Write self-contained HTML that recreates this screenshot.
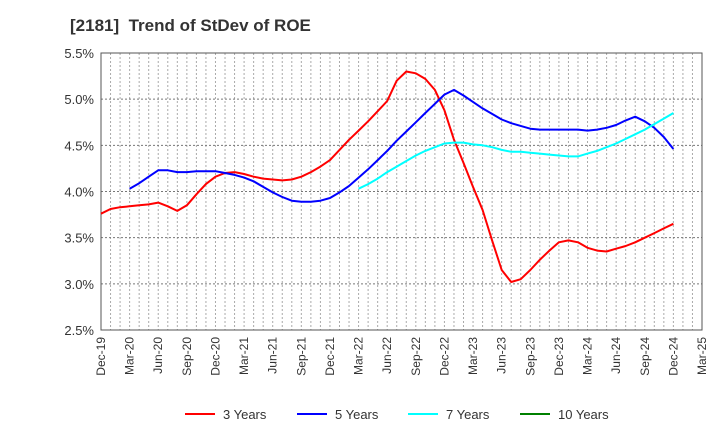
<!DOCTYPE html>
<html><head><meta charset="utf-8"><style>
body{margin:0;background:#fff;font-family:"Liberation Sans",sans-serif;}
svg text{font-family:"Liberation Sans",sans-serif;}
</style></head><body>
<svg id="chart" width="720" height="440" xmlns="http://www.w3.org/2000/svg">
<text x="70" y="31" font-size="17" font-weight="bold" fill="#333" style="white-space:pre">[2181]  Trend of StDev of ROE</text>
<g id="grid"></g><g id="axes"></g><g id="series"></g><g id="legend"></g>
</svg>
<script>
const xLabels=["Dec-19","Mar-20","Jun-20","Sep-20","Dec-20","Mar-21","Jun-21","Sep-21","Dec-21","Mar-22","Jun-22","Sep-22","Dec-22","Mar-23","Jun-23","Sep-23","Dec-23","Mar-24","Jun-24","Sep-24","Dec-24","Mar-25"];
const yTicks=[2.5,3.0,3.5,4.0,4.5,5.0,5.5];
const seriesNames=["3 Years","5 Years","7 Years","10 Years"];
const seriesColors=["#ff0000","#0000ff","#00ffff","#008000"];
// monthly values starting Dec-19 (index 0)
const red=[3.76,3.81,3.83,3.84,3.85,3.86,3.88,3.84,3.79,3.85,3.97,4.08,4.16,4.20,4.21,4.19,4.16,4.14,4.13,4.12,4.13,4.16,4.21,4.27,4.34,4.45,4.56,4.66,4.76,4.87,4.98,5.20,5.30,5.28,5.22,5.10,4.88,4.56,4.31,4.05,3.80,3.47,3.15,3.02,3.05,3.15,3.26,3.36,3.45,3.47,3.45,3.39,3.36,3.35,3.38,3.41,3.45,3.50,3.55,3.60,3.65];
const blueStart=3;
const blue=[4.03,4.09,4.16,4.23,4.23,4.21,4.21,4.22,4.22,4.22,4.20,4.18,4.15,4.11,4.05,3.99,3.94,3.90,3.89,3.89,3.90,3.93,3.99,4.06,4.15,4.24,4.34,4.44,4.55,4.65,4.75,4.85,4.95,5.05,5.10,5.04,4.97,4.90,4.84,4.78,4.74,4.71,4.68,4.67,4.67,4.67,4.67,4.67,4.66,4.67,4.69,4.72,4.77,4.81,4.76,4.69,4.59,4.46];
const cyanStart=27;
const cyan=[4.03,4.08,4.14,4.21,4.27,4.33,4.39,4.44,4.48,4.52,4.53,4.53,4.51,4.50,4.48,4.45,4.43,4.43,4.42,4.41,4.40,4.39,4.38,4.38,4.41,4.44,4.48,4.52,4.57,4.62,4.67,4.73,4.79,4.85];
const green=[];

const L=101,R=702,T=53,B=330,NM=63;
const xs=m=>L+m*(R-L)/NM;
const ys=v=>B-(v-2.5)/3*(B-T);
const NS="http://www.w3.org/2000/svg";
function mk(parent,tag,attrs){const e=document.createElementNS(NS,tag);for(const k in attrs)e.setAttribute(k,attrs[k]);document.getElementById(parent).appendChild(e);return e;}
for(let m=1;m<NM;m++){const e=mk("grid","line",{x1:xs(m),x2:xs(m),y1:T,y2:B,stroke:"#aaa","stroke-width":1,"stroke-dasharray":"2,2"});

}
yTicks.forEach(v=>{const e=mk("grid","line",{x1:L,x2:R,y1:ys(v),y2:ys(v),stroke:"#777","stroke-width":1,"stroke-dasharray":"2,2"});


const t=mk("axes","text",{x:L-7,y:ys(v)+5,"text-anchor":"end","font-size":13,fill:"#333"});t.textContent=v.toFixed(1)+"%";

});
const fr=mk("axes","rect",{x:L,y:T,width:R-L,height:B-T,fill:"none",stroke:"#555","stroke-width":1});


xLabels.forEach((s,i)=>{const x=xs(i*3);const t=mk("axes","text",{x:0,y:0,transform:`translate(${x+4},${B+7}) rotate(-90)`,"text-anchor":"end","font-size":12,fill:"#333"});t.textContent=s;

});
function line(arr,start,color,name){if(!arr.length)return;const pts=arr.map((v,i)=>xs(start+i).toFixed(1)+","+ys(v).toFixed(1)).join(" ");
const p=mk("series","polyline",{points:pts,fill:"none",stroke:color,"stroke-width":2,"stroke-linejoin":"round"});

}
line(red,0,seriesColors[0],"series-3-years");
line(blue,blueStart,seriesColors[1],"series-5-years");
line(cyan,cyanStart,seriesColors[2],"series-7-years");
line(green,0,seriesColors[3],"series-10-years");
const lx=[185,297,408,520];
seriesNames.forEach((n,i)=>{const g=mk("legend","g",{});


const l=document.createElementNS(NS,"line");l.setAttribute("x1",lx[i]);l.setAttribute("x2",lx[i]+30);l.setAttribute("y1",414);l.setAttribute("y2",414);l.setAttribute("stroke",seriesColors[i]);l.setAttribute("stroke-width",2);g.appendChild(l);
const t=document.createElementNS(NS,"text");t.setAttribute("x",lx[i]+38);t.setAttribute("y",419);t.setAttribute("font-size",13);t.setAttribute("fill","#333");t.textContent=n;g.appendChild(t);});
</script>
</body></html>
